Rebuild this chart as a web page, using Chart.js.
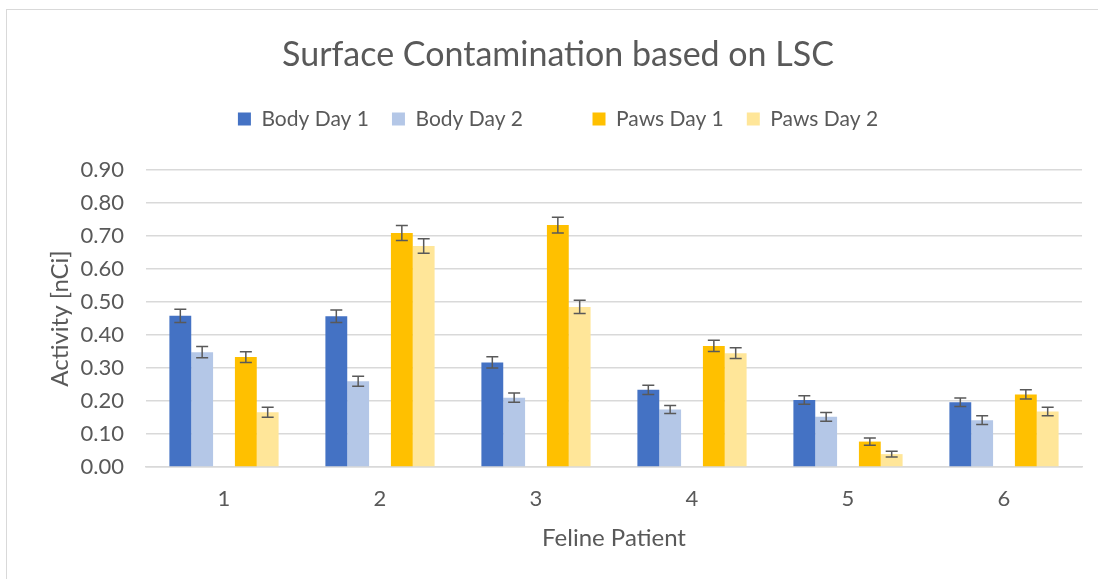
<!DOCTYPE html>
<html>
<head>
<meta charset="utf-8">
<script src="https://cdn.jsdelivr.net/npm/chart.js@4.4.0/dist/chart.umd.min.js"></script>
<style>
  body { margin: 0; background: #fff; }
  #wrap { position: relative; width: 1098px; height: 579px; overflow: hidden; }
  #frame { position: absolute; left: 6px; top: 9px; width: 1200px; height: 700px; border: 1px solid #d9d9d9; box-sizing: border-box; }
  canvas { position: absolute; left: 0; top: 0; }
</style>
</head>
<body>
<div id="wrap">
  <div id="frame"></div>
  <canvas id="lsc-chart" width="1098" height="579"></canvas>
</div>
<script>
const patients = ['1', '2', '3', '4', '5', '6'];

const bodyDay1 = [0.458, 0.457, 0.317, 0.234, 0.203, 0.196];
const bodyDay2 = [0.348, 0.260, 0.210, 0.174, 0.152, 0.142];
const pawsDay1 = [0.333, 0.709, 0.733, 0.367, 0.077, 0.220];
const pawsDay2 = [0.166, 0.670, 0.485, 0.345, 0.039, 0.168];

// error bar half-widths
const bodyDay1Err = [0.020, 0.019, 0.017, 0.014, 0.013, 0.013];
const bodyDay2Err = [0.017, 0.015, 0.014, 0.012, 0.013, 0.013];
const pawsDay1Err = [0.016, 0.023, 0.024, 0.017, 0.011, 0.014];
const pawsDay2Err = [0.015, 0.022, 0.020, 0.016, 0.009, 0.013];

const spacer = [null, null, null, null, null, null];

const textColor = '#595959';
const fontName = 'Lato';

// draws the error bars on top of each bar
const errorBars = {
    id: 'errorBars',
    afterDatasetsDraw(chart) {
        const ctx = chart.ctx;
        const y = chart.scales.y;
        ctx.save();
        ctx.strokeStyle = '#595959';
        ctx.lineWidth = 1.5;
        chart.data.datasets.forEach((ds, i) => {
            if (!ds.errors) return;
            const meta = chart.getDatasetMeta(i);
            meta.data.forEach((bar, j) => {
                const v = ds.data[j];
                const e = ds.errors[j];
                const top = y.getPixelForValue(v + e);
                const bot = y.getPixelForValue(v - e);
                ctx.beginPath();
                ctx.moveTo(bar.x, top);
                ctx.lineTo(bar.x, bot);
                ctx.moveTo(bar.x - 6, top);
                ctx.lineTo(bar.x + 6, top);
                ctx.moveTo(bar.x - 6, bot);
                ctx.lineTo(bar.x + 6, bot);
                ctx.stroke();
            });
        });
        ctx.restore();
    }
};

// extra room under the legend
const legendRoom = {
    id: 'legendRoom',
    beforeInit(chart) {
        const fit = chart.legend.fit;
        chart.legend.fit = function () {
            fit.bind(chart.legend)();
            this.height = 84.6;
        };
    }
};

const ctx = document.getElementById('lsc-chart').getContext('2d');

new Chart(ctx, {
    type: 'bar',
    data: {
        labels: patients,
        datasets: [
            { label: 'Body Day 1', data: bodyDay1, errors: bodyDay1Err, backgroundColor: '#4472C4' },
            { label: 'Body Day 2', data: bodyDay2, errors: bodyDay2Err, backgroundColor: '#B4C7E7' },
            { label: '', data: spacer, backgroundColor: 'rgba(0,0,0,0)', borderWidth: 0 },
            { label: 'Paws Day 1', data: pawsDay1, errors: pawsDay1Err, backgroundColor: '#FFC000' },
            { label: 'Paws Day 2', data: pawsDay2, errors: pawsDay2Err, backgroundColor: '#FFE699' },
        ],
    },
    options: {
        responsive: false,
        animation: false,
        layout: { padding: { left: 34, right: 16, top: 0, bottom: 0 } },
        datasets: {
            bar: { categoryPercentage: 0.7, barPercentage: 1.0 },
        },
        plugins: {
            title: {
                display: true,
                text: 'Surface Contamination based on LSC',
                color: textColor,
                font: { family: fontName, size: 34, weight: 'normal' },
                padding: { top: 34.6, bottom: 10 },
            },
            legend: {
                display: true,
                labels: {
                    color: textColor,
                    font: { family: fontName, size: 21 },
                    boxWidth: 13,
                    boxHeight: 13,
                    padding: 23,
                },
            },
            tooltip: { enabled: false },
        },
        scales: {
            x: {
                grid: { display: false, drawTicks: false },
                border: { display: true, color: '#d9d9d9', width: 1.5 },
                ticks: {
                    color: textColor,
                    font: { family: fontName, size: 22 },
                    padding: 19,
                },
                title: {
                    display: true,
                    text: 'Feline Patient',
                    color: textColor,
                    font: { family: fontName, size: 24 },
                    padding: { top: 0, bottom: 26.6 },
                },
                afterFit(scale) { scale.height = 112; },
            },
            y: {
                min: 0,
                max: 0.9,
                grid: { color: '#d9d9d9', lineWidth: 1.5, drawTicks: false },
                border: { display: false },
                ticks: {
                    stepSize: 0.1,
                    color: textColor,
                    font: { family: fontName, size: 22 },
                    padding: 22,
                    callback: (v) => v.toFixed(2),
                },
                title: {
                    display: true,
                    text: 'Activity [nCi]',
                    color: textColor,
                    font: { family: fontName, size: 24 },
                    padding: { top: 11.6, bottom: 0 },
                },
                afterFit(scale) { scale.width = 112; },
            },
        },
    },
    plugins: [errorBars, legendRoom],
});
</script>
</body>
</html>
